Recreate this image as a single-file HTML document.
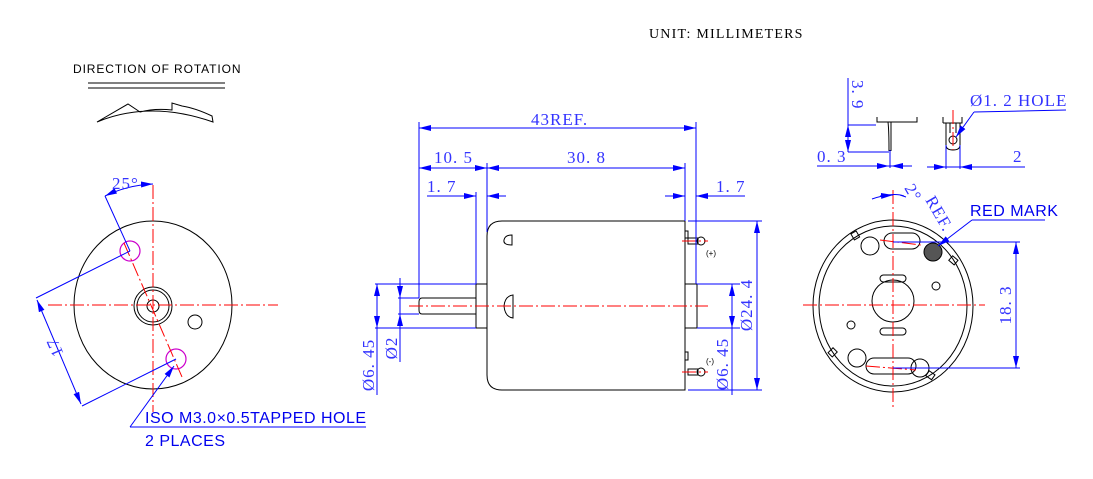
<!DOCTYPE html>
<html><head><meta charset="utf-8"><style>html,body{margin:0;padding:0;background:#fff}svg{display:block}</style></head><body>
<svg width="1093" height="479" viewBox="0 0 1093 479" xmlns="http://www.w3.org/2000/svg">
<defs>
<marker id="a" markerWidth="12" markerHeight="6" refX="12" refY="3" orient="auto" markerUnits="userSpaceOnUse"><path d="M0,0 L12,3 L0,6 z" fill="#00f"/></marker>
<marker id="b" markerWidth="12" markerHeight="6" refX="0" refY="3" orient="auto" markerUnits="userSpaceOnUse"><path d="M12,0 L0,3 L12,6 z" fill="#00f"/></marker>
</defs>
<style>
.k{fill:none;stroke:#000;stroke-width:1}
.bl{fill:none;stroke:#00f;stroke-width:1}
.r{fill:none;stroke:#f00;stroke-width:1;stroke-dasharray:14 3 2 3}
.t{font-family:"Liberation Serif",serif;fill:#3333ff;font-size:17px;letter-spacing:1px}
.s{font-family:"Liberation Sans",sans-serif;fill:#0000ee;font-size:16px;letter-spacing:0.5px}
</style>
<text x="649" y="38" font-family="Liberation Serif,serif" font-size="14" letter-spacing="1.2">UNIT: MILLIMETERS</text>
<text x="73" y="73" font-family="Liberation Sans,sans-serif" font-size="12" letter-spacing="0.9">DIRECTION OF ROTATION</text>
<line x1="88" y1="83" x2="225" y2="83" class="k"/><line x1="88" y1="88" x2="225" y2="88" class="k"/>
<path d="M97,122 Q150,100 213,122 L212,116 Q195,108 182,106 L172,103 L172,110 Q155,108 140,112 L128,104 L97,122 Z" class="k"/>

<!-- left view -->
<ellipse cx="153" cy="305" rx="79" ry="84" class="k"/>
<circle cx="153" cy="306" r="19" class="k"/><circle cx="153" cy="306" r="16" class="k"/><circle cx="153" cy="306" r="6" class="k"/>
<circle cx="130" cy="251" r="10" fill="none" stroke="#c0c" stroke-width="1.2"/>
<circle cx="176" cy="359" r="10" fill="none" stroke="#c0c" stroke-width="1.2"/>
<circle cx="195" cy="322" r="7" class="k"/>
<line x1="48" y1="305" x2="278" y2="305" class="r"/>
<line x1="153" y1="185" x2="153" y2="412" class="r"/>
<line x1="124" y1="243" x2="182" y2="377" class="r"/>
<line x1="105" y1="196" x2="130" y2="251" class="bl"/>
<path d="M105,196 Q128,185 153,184" class="bl" marker-start="url(#b)" marker-end="url(#a)"/>
<text x="112" y="189" class="t" font-size="16">25°</text>
<line x1="130" y1="251" x2="36" y2="298" class="bl"/><line x1="176" y1="359" x2="82" y2="406" class="bl"/>
<line x1="37" y1="300" x2="81" y2="404" class="bl" marker-start="url(#b)" marker-end="url(#a)"/>
<text transform="translate(60,345) rotate(-113)" class="t" font-size="17" text-anchor="middle">17</text>
<line x1="130" y1="427" x2="174" y2="366" class="bl" marker-end="url(#a)"/>
<line x1="130" y1="427" x2="366" y2="427" class="bl"/>
<text x="145" y="423" class="s" letter-spacing="1">ISO M3.0×0.5TAPPED HOLE</text>
<text x="145" y="446" class="s" letter-spacing="1">2 PLACES</text>

<!-- center view -->
<path d="M502,221 H685 V390 H502 Q487,390 487,375 V236 Q487,221 502,221 Z" class="k"/>
<rect x="476" y="284" width="11" height="44" class="k"/>
<path d="M422,298 H476 V314 H422 Q419,314 419,310 V302 Q419,298 422,298 Z" class="k"/>
<rect x="685" y="284" width="12" height="44" class="k"/>
<path d="M512,245 Q503,245 504,240 Q505,235 512,235 Z" class="k"/>
<path d="M513,295 Q505,296 504,306 Q505,317 513,318 Z" class="k"/>
<rect x="685" y="231" width="3" height="7" class="k"/><rect x="688" y="238" width="10" height="6" class="k"/><circle cx="701" cy="241" r="4" class="k"/>
<rect x="685" y="352" width="3" height="8" class="k"/><rect x="688" y="369" width="10" height="6" class="k"/><circle cx="701" cy="372" r="4" class="k"/>
<text x="706" y="256" font-size="8" font-family="Liberation Sans">(+)</text>
<text x="706" y="364" font-size="8" font-family="Liberation Sans">(-)</text>
<line x1="682" y1="241" x2="708" y2="241" class="r"/><line x1="682" y1="372" x2="708" y2="372" class="r"/>
<line x1="409" y1="306" x2="708" y2="306" class="r"/>
<line x1="419" y1="122" x2="419" y2="298" class="bl"/><line x1="696" y1="122" x2="696" y2="284" class="bl"/>
<line x1="419" y1="128" x2="696" y2="128" class="bl" marker-start="url(#b)" marker-end="url(#a)"/>
<text x="531" y="125" class="t">43REF.</text>
<line x1="487" y1="163" x2="487" y2="232" class="bl"/><line x1="685" y1="163" x2="685" y2="221" class="bl"/>
<line x1="419" y1="168" x2="487" y2="168" class="bl" marker-start="url(#b)" marker-end="url(#a)"/>
<line x1="487" y1="168" x2="685" y2="168" class="bl" marker-start="url(#b)" marker-end="url(#a)"/>
<text x="434" y="163" class="t">10. 5</text><text x="567" y="163" class="t">30. 8</text>
<line x1="476" y1="192" x2="476" y2="284" class="bl"/>
<line x1="427" y1="196" x2="476" y2="196" class="bl" marker-end="url(#a)"/>
<line x1="506" y1="196" x2="487" y2="196" class="bl" marker-end="url(#a)"/>
<text x="427" y="192" class="t">1. 7</text>
<line x1="665" y1="196" x2="685" y2="196" class="bl" marker-end="url(#a)"/>
<line x1="745" y1="196" x2="696" y2="196" class="bl" marker-end="url(#a)"/>
<text x="716" y="192" class="t">1. 7</text>
<line x1="688" y1="221" x2="762" y2="221" class="bl"/><line x1="688" y1="390" x2="762" y2="390" class="bl"/>
<line x1="757" y1="221" x2="757" y2="390" class="bl" marker-start="url(#b)" marker-end="url(#a)"/>
<text transform="translate(752,305) rotate(-90)" class="t" text-anchor="middle">Ø24. 4</text>
<line x1="697" y1="284" x2="740" y2="284" class="bl"/><line x1="697" y1="328" x2="740" y2="328" class="bl"/>
<line x1="732" y1="284" x2="732" y2="395" class="bl"/>
<line x1="732" y1="300" x2="732" y2="284" class="bl" marker-end="url(#a)"/>
<line x1="732" y1="312" x2="732" y2="328" class="bl" marker-end="url(#a)"/>
<text transform="translate(728,364) rotate(-90)" class="t" text-anchor="middle">Ø6. 45</text>
<line x1="375" y1="284" x2="476" y2="284" class="bl"/><line x1="375" y1="328" x2="476" y2="328" class="bl"/>
<line x1="377" y1="284" x2="377" y2="395" class="bl" marker-start="url(#b)"/>
<line x1="377" y1="312" x2="377" y2="328" class="bl" marker-end="url(#a)"/>
<text transform="translate(374,365) rotate(-90)" class="t" text-anchor="middle">Ø6. 45</text>
<line x1="398" y1="298" x2="419" y2="298" class="bl"/><line x1="398" y1="314" x2="419" y2="314" class="bl"/>
<line x1="400" y1="278" x2="400" y2="362" class="bl"/>
<line x1="400" y1="283" x2="400" y2="298" class="bl" marker-end="url(#a)"/>
<line x1="400" y1="329" x2="400" y2="314" class="bl" marker-end="url(#a)"/>
<text transform="translate(397,348) rotate(-90)" class="t" text-anchor="middle">Ø2</text>

<!-- right view -->
<ellipse cx="893" cy="306" rx="80" ry="86" class="k"/>
<ellipse cx="893" cy="306" rx="74" ry="80" class="k"/>
<circle cx="893" cy="301" r="21" class="k"/>
<rect x="884" y="233" width="36" height="16" rx="8" class="k"/>
<circle cx="870" cy="246" r="9" class="k"/>
<circle cx="933" cy="252" r="9" fill="#555" stroke="#000"/>
<circle cx="936" cy="286" r="4" class="k"/><circle cx="851" cy="325" r="4" class="k"/>
<rect x="880" y="275" width="26" height="7" rx="3.5" class="k"/><rect x="880" y="328" width="26" height="7" rx="3.5" class="k"/>
<rect x="866" y="358" width="50" height="16" rx="8" class="k"/>
<circle cx="857" cy="358" r="9" class="k"/><circle cx="920" cy="368" r="9" class="k"/>
<rect x="852" y="232" width="6" height="7" class="k" transform="rotate(-30 855 235)"/>
<rect x="950" y="257" width="6" height="7" class="k" transform="rotate(-50 953 260)"/>
<rect x="830" y="349" width="6" height="7" class="k" transform="rotate(45 833 352)"/>
<rect x="927" y="372" width="6" height="7" class="k" transform="rotate(-55 930 375)"/>
<line x1="803" y1="305" x2="985" y2="305" class="r"/>
<line x1="893" y1="190" x2="893" y2="410" class="r"/>
<line x1="880" y1="240" x2="921" y2="245" class="r"/><line x1="866" y1="366" x2="916" y2="370" class="r"/>
<line x1="893" y1="242" x2="1020" y2="242" class="bl"/><line x1="893" y1="368" x2="1020" y2="368" class="bl"/>
<line x1="1016" y1="242" x2="1016" y2="368" class="bl" marker-start="url(#b)" marker-end="url(#a)"/>
<text transform="translate(1011,305) rotate(-90)" class="t" text-anchor="middle">18. 3</text>
<line x1="938" y1="246" x2="972" y2="220" class="bl" marker-start="url(#b)"/>
<line x1="972" y1="220" x2="1045" y2="220" class="bl"/>
<text x="970" y="216" class="s" letter-spacing="0.8">RED MARK</text>
<path d="M872,199 Q893,192 904,196" class="bl"/>
<line x1="880" y1="196" x2="893" y2="195" class="bl" marker-end="url(#a)"/>
<line x1="906" y1="197" x2="900" y2="195" class="bl"/>
<text transform="translate(904,188) rotate(60)" class="t" font-size="15">2°</text>
<text transform="translate(925,200) rotate(60)" class="t" font-size="15">REF.</text>

<!-- top small views -->
<line x1="848" y1="78" x2="848" y2="152" class="bl"/>
<text transform="translate(852,80) rotate(90)" class="t" font-size="16">3. 9</text>
<line x1="848" y1="125" x2="876" y2="125" class="bl"/><line x1="848" y1="152" x2="889" y2="152" class="bl"/>
<line x1="848" y1="138" x2="848" y2="125" class="bl" marker-end="url(#a)"/>
<line x1="848" y1="138" x2="848" y2="152" class="bl" marker-end="url(#a)"/>
<path d="M877,117 V122 H917 V117" class="k"/>
<path d="M888,122 Q889,130 889,151 M891,122 V151" class="k"/>
<line x1="817" y1="166" x2="912" y2="166" class="bl"/>
<line x1="878" y1="166" x2="889" y2="166" class="bl" marker-end="url(#a)"/>
<line x1="902" y1="166" x2="891" y2="166" class="bl" marker-end="url(#a)"/>
<line x1="890" y1="150" x2="890" y2="168" class="bl"/>
<text x="817" y="162" class="t" font-size="16">0. 3</text>
<path d="M943,123 V117 M943,123 H962 V117 M946,123 V145 Q946,150 953,150 Q960,150 960,145 V123 M950,123 V133 M956,123 V133" class="k"/>
<circle cx="953" cy="140" r="4" class="k"/>
<line x1="953" y1="110" x2="953" y2="150" class="r"/>
<line x1="946" y1="145" x2="946" y2="169" class="bl"/><line x1="960" y1="145" x2="960" y2="169" class="bl"/>
<line x1="927" y1="167" x2="1025" y2="167" class="bl"/>
<line x1="932" y1="167" x2="946" y2="167" class="bl" marker-end="url(#a)"/>
<line x1="974" y1="167" x2="960" y2="167" class="bl" marker-end="url(#a)"/>
<text x="1013" y="162" class="t">2</text>
<line x1="974" y1="112" x2="956" y2="137" class="bl" marker-end="url(#a)"/>
<line x1="974" y1="112" x2="1066" y2="110" class="bl"/>
<text x="970" y="106" class="t" font-size="16">Ø1. 2 HOLE</text>
</svg>
</body></html>
